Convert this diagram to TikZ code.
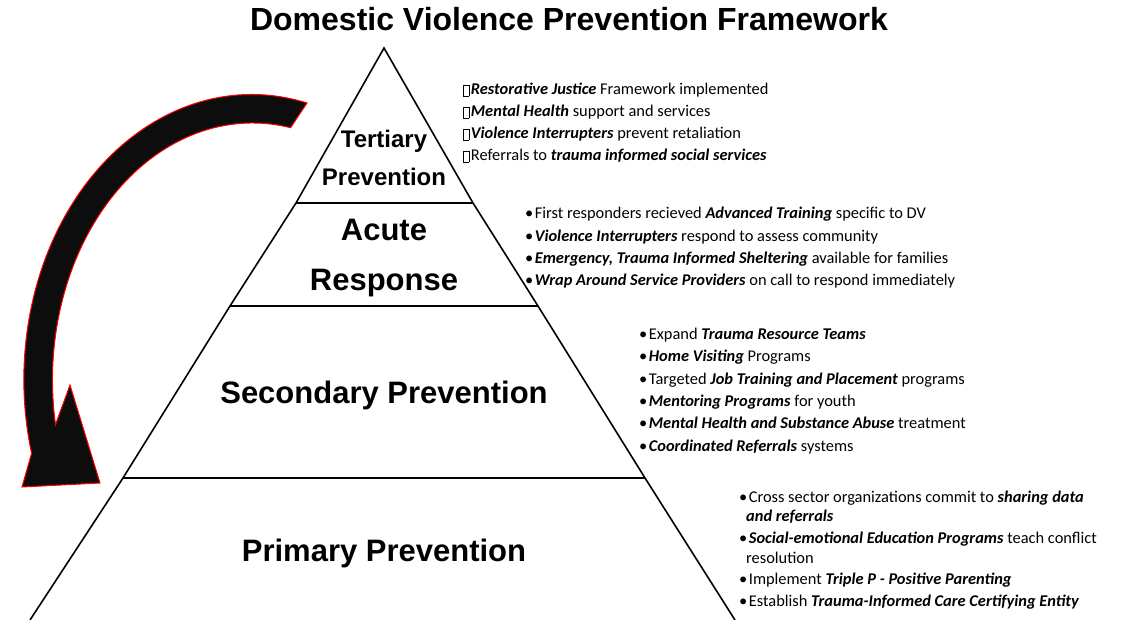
\documentclass[tikz,border=0pt]{standalone}
\usepackage{fontspec}
\setmainfont{Carlito}
\newfontfamily\arialfont{Liberation Sans}
\usepackage{tikz}
\usetikzlibrary{positioning}
\definecolor{arrowblack}{HTML}{0D0D0D}

\newcommand{\bul}{•\hspace{1.5pt}}
\newcommand{\bi}[1]{\textbf{\textit{#1}}}
\newcommand{\tofu}{{\setlength{\fboxsep}{0pt}\setlength{\fboxrule}{0.6pt}\fbox{\rule[-1pt]{0pt}{10.5pt}\hspace{5pt}}}\hspace{1.5pt}}

\begin{document}
\begin{tikzpicture}[x=1pt,y=-1pt]

\tikzset
  {
    levelText/.style={font=\arialfont\bfseries\fontsize{31}{31}\selectfont, anchor=base, inner sep=0},
    listText/.style={font=\fontsize{16.4}{16.4}\selectfont, anchor=base west, inner sep=0},
    pyrLine/.style={black, line width=1.6pt}
  }

\useasboundingbox (0,0) rectangle (1130,620);

\node[font=\arialfont\bfseries\fontsize{32}{32}\selectfont, anchor=base, inner sep=0] (title) at (569,31)
{Domestic Violence Prevention Framework};

% pyramid
\coordinate (apex) at (384,48);
\coordinate (L1) at (296,203);
\coordinate (R1) at (473,203);
\coordinate (L2) at (230,306);
\coordinate (R2) at (538,306);
\coordinate (L3) at (123,478);
\coordinate (R3) at (645,478);
\coordinate (L4) at (30,620);
\coordinate (R4) at (735,620);

\draw[pyrLine, line join=miter] (L4)--(L3)--(L2)--(L1)--(apex)--(R1)--(R2)--(R3)--(R4);
\draw[pyrLine] (L1)--(R1);
\draw[pyrLine] (L2)--(R2);
\draw[pyrLine] (L3)--(R3);
\draw[gray!40, line width=0.8pt] (L4)--(R4);

\node[levelText, font=\arialfont\bfseries\fontsize{24}{24}\selectfont] (tert1) at (384,148) {Tertiary};
\node[levelText, font=\arialfont\bfseries\fontsize{24}{24}\selectfont] (tert2) at (384,186) {Prevention};
\node[levelText] (acute1) at (384,241) {Acute};
\node[levelText] (acute2) at (384,291) {Response};
\node[levelText] (second) at (384,403) {Secondary Prevention};
\node[levelText] (prim) at (384,561) {Primary Prevention};

% curved arrow
\coordinate (arcC) at (253,380);
\filldraw[fill=arrowblack, draw=red, line width=1pt, line join=miter]
  (307,103) arc[start angle=-76, end angle=-195, x radius=228, y radius=285]
  -- (22,487) -- (100,483) -- (70,385)
  -- (55.5,424.6) arc[start angle=-190, end angle=-79, x radius=200, y radius=257]
  -- cycle;

% tertiary list
\node[listText] (t1) at (463,95) {\tofu\bi{Restorative Justice} Framework implemented};
\node[listText] (t2) at (463,117) {\tofu\bi{Mental Health} support and services};
\node[listText] (t3) at (463,139) {\tofu\bi{Violence Interrupters} prevent retaliation};
\node[listText] (t4) at (463,161) {\tofu Referrals to \bi{trauma informed social services}};

% acute list
\node[listText] (a1) at (525,219) {\bul First responders recieved \bi{Advanced Training} specific to DV};
\node[listText] (a2) at (525,242) {\bul\bi{Violence Interrupters} respond to assess community};
\node[listText] (a3) at (525,264) {\bul\bi{Emergency, Trauma Informed Sheltering} available for families};
\node[listText] (a4) at (525,286) {\bul\bi{Wrap Around Service Providers} on call to respond immediately};

% secondary list
\node[listText] (s1) at (639,340) {\bul Expand \bi{Trauma Resource Teams}};
\node[listText] (s2) at (639,362) {\bul\bi{Home Visiting} Programs};
\node[listText] (s3) at (639,384) {\bul Targeted \bi{Job Training and Placement} programs};
\node[listText] (s4) at (639,406) {\bul\bi{Mentoring Programs} for youth};
\node[listText] (s5) at (639,428) {\bul\bi{Mental Health and Substance Abuse} treatment};
\node[listText] (s6) at (639,451) {\bul\bi{Coordinated Referrals} systems};

% primary list
\node[listText] (p1) at (739,502) {\bul Cross sector organizations commit to \bi{sharing data}};
\node[listText] (p1b) at (746,521) {\bi{and referrals}};
\node[listText] (p2) at (739,543) {\bul\bi{Social-emotional Education Programs} teach conflict};
\node[listText] (p2b) at (746,563) {resolution};
\node[listText] (p3) at (739,584) {\bul Implement \bi{Triple P - Positive Parenting}};
\node[listText] (p4) at (739,606) {\bul Establish \bi{Trauma-Informed Care Certifying Entity}};

\end{tikzpicture}
\end{document}
